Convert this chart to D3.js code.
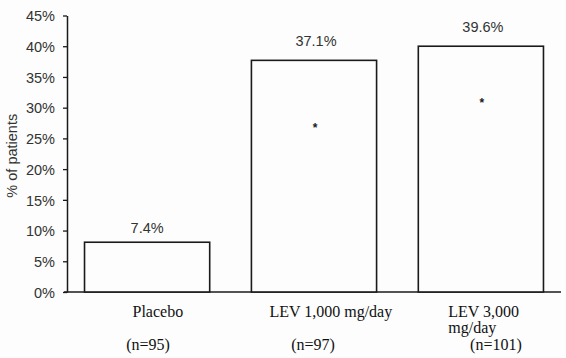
<!DOCTYPE html>
<html><head><meta charset="utf-8">
<script src="https://cdn.jsdelivr.net/npm/d3@7"></script>
<style>
html,body{margin:0;padding:0;background:#fcfdfc;}
svg{display:block;}
</style></head>
<body>
<svg id="chart" width="566" height="358"></svg>
<script>
// ---- data ----
const categories = ["Placebo", "LEV 1,000 mg/day", "LEV 3,000 mg/day"];
const categoryLines = [["Placebo"], ["LEV 1,000 mg/day"], ["LEV 3,000", "mg/day"]];
const sampleSizes = ["(n=95)", "(n=97)", "(n=101)"];
const barHeights = [8.1, 37.7, 40.0];          // drawn bar heights (% of patients)
const valueLabels = ["7.4%", "37.1%", "39.6%"];
const significance = [null, 26.8, 31.0];        // asterisk level (%)
const yTicks = [0, 5, 10, 15, 20, 25, 30, 35, 40, 45];
const yTitle = "% of patients";

// ---- layout ----
const svg = d3.select("#chart");
const x0 = 67, x1 = 561, yTop = 15.5, yBot = 292;
const x = d3.scaleBand().domain(categories).range([x0, x1]).paddingInner(0.25).paddingOuter(0.105);
const y = d3.scaleLinear().domain([0, 45]).range([yBot, yTop]);
const ink = "#1a1a1a";

// y axis
const yAxis = d3.axisLeft(y).tickValues(yTicks).tickFormat(d => d + "%").tickSize(4).tickSizeOuter(0);
const gy = svg.append("g").attr("transform", `translate(${x0},0)`).call(yAxis);
gy.select(".domain").attr("stroke", ink).attr("stroke-width", 1.5);
gy.selectAll(".tick line").attr("stroke", ink).attr("stroke-width", 1.3);
gy.selectAll(".tick text").attr("x", -12).attr("dy", "0.36em")
  .attr("font-family", "'Liberation Sans', Arial, sans-serif").attr("font-size", 14.5).attr("fill", "#333");

// baseline
svg.append("line").attr("x1", x0 - 3).attr("x2", x1).attr("y1", yBot).attr("y2", yBot)
  .attr("stroke", ink).attr("stroke-width", 1.5);

// y title
svg.append("text").attr("transform", `translate(17,${(yTop + yBot) / 2 + 2}) rotate(-90)`)
  .attr("text-anchor", "middle").attr("font-family", "'Liberation Sans', Arial, sans-serif")
  .attr("font-size", 14.5).attr("fill", "#333").text(yTitle);

// bars
svg.selectAll("rect.bar").data(categories).join("rect").attr("class", "bar")
  .attr("x", d => x(d)).attr("width", x.bandwidth())
  .attr("y", (d, i) => y(barHeights[i])).attr("height", (d, i) => yBot - y(barHeights[i]))
  .attr("fill", "#fcfdfc").attr("stroke", ink).attr("stroke-width", 1.6);

// value labels
const labelGap = [9, 14, 14];
svg.selectAll("text.val").data(categories).join("text").attr("class", "val")
  .attr("x", (d, i) => x(d) + x.bandwidth() / 2 + [0, 2, 2][i])
  .attr("y", (d, i) => y(barHeights[i]) - labelGap[i])
  .attr("text-anchor", "middle").attr("font-family", "'Liberation Sans', Arial, sans-serif")
  .attr("font-size", 14.5).attr("fill", "#333").text((d, i) => valueLabels[i]);

// asterisks
svg.selectAll("text.sig").data(categories.filter((d, i) => significance[i] != null)).join("text").attr("class", "sig")
  .attr("x", d => x(d) + x.bandwidth() / 2 + 1)
  .attr("y", d => y(significance[categories.indexOf(d)]) + 5)
  .attr("text-anchor", "middle").attr("font-family", "'Liberation Sans', Arial, sans-serif")
  .attr("font-size", 12).attr("font-weight", "bold").attr("fill", ink).text("*");

// category labels
const catDx = [48, 18, 30];
categories.forEach((c, i) => {
  const t = svg.append("text").attr("font-family", "'Liberation Serif', 'Times New Roman', serif")
    .attr("font-size", 16).attr("fill", "#111");
  categoryLines[i].forEach((line, j) => {
    t.append("tspan").attr("x", x(c) + catDx[i]).attr("y", 317 + j * 15.5).text(line);
  });
});

// sample sizes
const nDx = [1, -1, 15];
svg.selectAll("text.n").data(categories).join("text").attr("class", "n")
  .attr("x", (d, i) => x(d) + x.bandwidth() / 2 + nDx[i]).attr("y", 350)
  .attr("text-anchor", "middle").attr("font-family", "'Liberation Serif', 'Times New Roman', serif")
  .attr("font-size", 16).attr("fill", "#111").text((d, i) => sampleSizes[i]);
</script>
</body></html>
